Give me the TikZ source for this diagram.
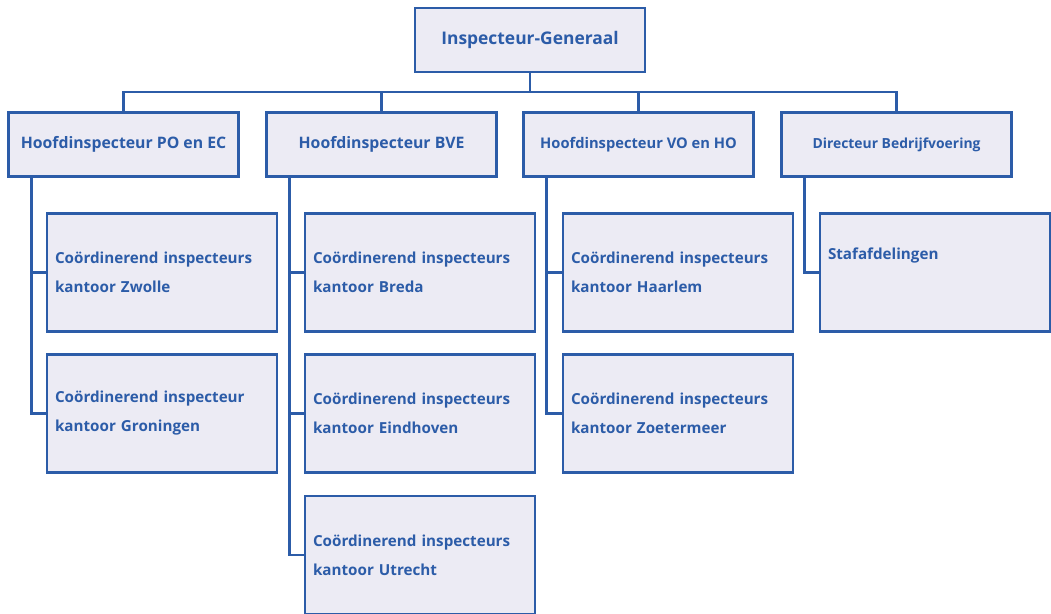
\documentclass[tikz,border=0pt]{standalone}
\usepackage{fontspec}
\setmainfont{Open Sans}
\usepackage{xcolor}
\usepackage{tikz}

\definecolor{orgblue}{HTML}{2C5CA8}
\definecolor{orgfill}{HTML}{ECEBF4}

\begin{document}
\begin{tikzpicture}[x=1pt,y=-1pt,
  box/.style={draw=orgblue,fill=orgfill,line width=2.8pt,text=orgblue,
    font=\bfseries,inner sep=0pt},
  head/.style={box,minimum width=230,minimum height=64,align=center},
  unit/.style={box,minimum width=230,minimum height=118,text width=214,
    align=left,font=\bfseries\fontsize{15.2}{29}\selectfont},
  link/.style={draw=orgblue,line width=2.8pt}]
  \useasboundingbox (0,0) rectangle (1051,613);
  \coordinate (bus) at (0,92);
  % top
  \node[head,font=\bfseries\fontsize{17.4}{20}\selectfont] (ig) at (530,40) {Inspecteur-Generaal};
  % second level
  \node[head,font=\bfseries\fontsize{15.8}{18}\selectfont] (hpo) at (123.5,144.5) {Hoofdinspecteur PO en EC};
  \node[head,font=\bfseries\fontsize{15.8}{18}\selectfont] (hbve) at (381.5,144.5) {Hoofdinspecteur BVE};
  \node[head,font=\bfseries\fontsize{14.7}{18}\selectfont] (hvo) at (638.5,144.5) {Hoofdinspecteur VO en HO};
  \node[head,font=\bfseries\fontsize{13.9}{18}\selectfont] (dbv) at (896.5,144.5) {Directeur Bedrijfvoering};
  % offices
  \node[unit] (zwolle) at (162,272.5) {Coördinerend inspecteurs\\kantoor Zwolle};
  \node[unit] (groningen) at (162,413.5) {Coördinerend inspecteur\\kantoor Groningen};
  \node[unit] (breda) at (420,272.5) {Coördinerend inspecteurs\\kantoor Breda};
  \node[unit] (eindhoven) at (420,413.5) {Coördinerend inspecteurs\\kantoor Eindhoven};
  \node[unit] (utrecht) at (420,555) {Coördinerend inspecteurs\\kantoor Utrecht};
  \node[unit] (haarlem) at (678,272.5) {Coördinerend inspecteurs\\kantoor Haarlem};
  \node[unit] (zoetermeer) at (678,413.5) {Coördinerend inspecteurs\\kantoor Zoetermeer};
  \node[unit] (staf) at (935,272.5) {Stafafdelingen\\\strut};
  % bus
  \draw[link] (hpo.north) |- (bus -| dbv.north) -- (dbv.north);
  \draw[link] (ig.south) -- (ig.south |- bus);
  \foreach \n in {hbve,hvo} {
    \draw[link] (\n.north |- bus) -- (\n.north);
  }
  % branches
  \foreach \p/\last/\others in {hpo/groningen/{zwolle},hbve/utrecht/{breda,eindhoven},
      hvo/zoetermeer/{haarlem},dbv/staf/{}} {
    \draw[link] ([xshift=24pt]\p.south west) coordinate (t) |- (\last.west);
    \foreach \c in \others {
      \draw[link] (t |- \c.west) -- (\c.west);
    }
  }
\end{tikzpicture}
\end{document}
